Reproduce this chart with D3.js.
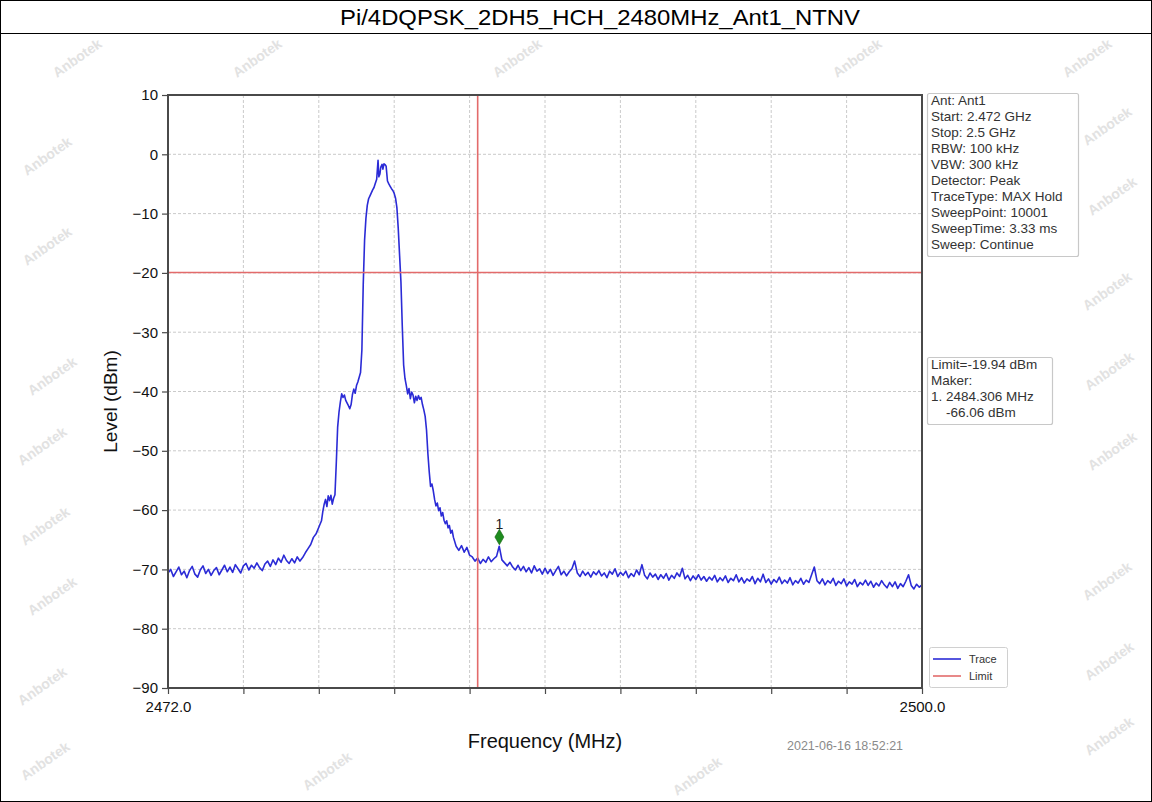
<!DOCTYPE html>
<html><head><meta charset="utf-8">
<script src="https://cdn.jsdelivr.net/npm/d3@7"></script>
<style>
body{margin:0;background:#fff}
svg{display:block}
text{font-family:"Liberation Sans",Arial,Helvetica,sans-serif}
</style>
</head><body>
<svg id="chart" width="1152" height="802"></svg>
<script>
// ---------------- data ----------------
const chartTitle = "Pi/4DQPSK_2DH5_HCH_2480MHz_Ant1_NTNV";
const xDomain = [2472, 2500];
const yDomain = [-90, 10];
const xTickValues = [2472, 2474.8, 2477.6, 2480.4, 2483.2, 2486, 2488.8, 2491.6, 2494.4, 2497.2, 2500];
const xTickLabels = ["2472.0", "", "", "", "", "", "", "", "", "", "2500.0"];
const yTickValues = [-90, -80, -70, -60, -50, -40, -30, -20, -10, 0, 10];
const limitDbm = -19.94;
const bandEdgeMHz = 2483.5;
const markerPoint = {label: "1", mhz: 2484.306, dbm: -66.06};
const xLabel = "Frequency (MHz)";
const yLabel = "Level (dBm)";
const timestamp = "2021-06-16 18:52:21";
const infoLines = ["Ant: Ant1", "Start: 2.472 GHz", "Stop: 2.5 GHz", "RBW: 100 kHz", "VBW: 300 kHz",
  "Detector: Peak", "TraceType: MAX Hold", "SweepPoint: 10001", "SweepTime: 3.33 ms", "Sweep: Continue"];
const markerLines = ["Limit=-19.94 dBm", "Maker:", "1. 2484.306 MHz", "    -66.06 dBm"];
const legendItems = [{name: "Trace", color: "#2b2bd6"}, {name: "Limit", color: "#e36b6b"}];

// trace: [frequency MHz, level dBm]
const tracePts = [
[2472.0,-70.6],[2472.1,-70.0],[2472.2,-71.2],[2472.3,-70.4],[2472.4,-69.6],[2472.5,-70.9],[2472.6,-70.3],[2472.7,-71.4],[2472.8,-70.2],[2472.9,-69.5],
[2473.0,-70.8],[2473.1,-71.3],[2473.2,-70.1],[2473.3,-69.4],[2473.4,-70.7],[2473.5,-70.0],[2473.6,-71.0],[2473.7,-70.2],[2473.8,-69.7],[2473.9,-70.9],
[2474.0,-70.1],[2474.1,-69.3],[2474.2,-70.4],[2474.3,-69.6],[2474.4,-70.5],[2474.5,-69.2],[2474.6,-69.9],[2474.7,-70.6],[2474.8,-69.4],[2474.9,-69.0],
[2475.0,-70.1],[2475.1,-69.3],[2475.2,-69.8],[2475.3,-68.9],[2475.4,-69.7],[2475.5,-70.2],[2475.6,-69.1],[2475.7,-68.6],[2475.8,-69.5],[2475.9,-68.4],
[2476.0,-69.2],[2476.1,-68.1],[2476.2,-68.8],[2476.3,-67.6],[2476.4,-68.5],[2476.5,-69.0],[2476.6,-68.2],[2476.7,-68.9],[2476.8,-67.9],[2476.9,-68.6],
[2477.0,-68.0],[2477.1,-67.2],[2477.2,-66.5],[2477.3,-65.8],[2477.4,-64.6],[2477.5,-64.0],[2477.6,-62.9],[2477.7,-61.8],[2477.75,-60.2],[2477.8,-59.0],
[2477.85,-58.2],[2477.9,-59.4],[2477.95,-57.6],[2478.0,-58.4],[2478.05,-57.5],[2478.1,-59.0],[2478.15,-58.0],[2478.2,-57.4],[2478.25,-52.0],[2478.3,-46.0],
[2478.35,-43.5],[2478.4,-41.8],[2478.45,-40.4],[2478.5,-41.0],[2478.55,-40.6],[2478.6,-41.5],[2478.7,-42.4],[2478.75,-42.9],[2478.8,-42.2],[2478.85,-40.5],
[2478.9,-39.6],[2478.95,-40.3],[2479.0,-39.0],[2479.05,-38.4],[2479.1,-37.6],[2479.15,-36.8],[2479.2,-33.0],[2479.25,-22.0],[2479.3,-14.5],[2479.35,-10.8],
[2479.4,-8.6],[2479.45,-7.5],[2479.5,-7.0],[2479.55,-6.5],[2479.6,-6.0],[2479.65,-5.6],[2479.7,-4.9],[2479.75,-4.2],[2479.8,-1.0],[2479.83,-3.8],
[2479.87,-3.3],[2479.9,-2.2],[2479.95,-1.7],[2479.98,-2.5],[2480.02,-1.6],[2480.07,-1.8],[2480.1,-2.0],[2480.15,-4.5],[2480.2,-5.0],[2480.25,-5.4],
[2480.3,-5.8],[2480.35,-6.1],[2480.4,-6.6],[2480.45,-7.4],[2480.5,-9.0],[2480.55,-12.5],[2480.6,-17.0],[2480.65,-21.5],[2480.7,-29.0],[2480.75,-35.5],
[2480.8,-37.8],[2480.85,-39.0],[2480.9,-40.4],[2480.95,-39.5],[2481.0,-41.2],[2481.05,-40.1],[2481.1,-40.6],[2481.15,-41.9],[2481.2,-40.8],[2481.25,-41.5],
[2481.3,-40.7],[2481.35,-41.3],[2481.4,-41.0],[2481.45,-42.2],[2481.5,-43.1],[2481.55,-44.2],[2481.6,-46.5],[2481.65,-50.4],[2481.7,-53.5],[2481.75,-56.0],
[2481.8,-55.6],[2481.85,-56.7],[2481.9,-58.2],[2481.95,-59.3],[2482.0,-58.8],[2482.05,-60.1],[2482.1,-59.6],[2482.15,-61.0],[2482.2,-60.4],[2482.25,-61.7],
[2482.3,-62.3],[2482.35,-61.8],[2482.4,-63.0],[2482.45,-62.6],[2482.5,-63.9],[2482.55,-63.4],[2482.6,-64.6],[2482.7,-66.1],[2482.8,-66.8],[2482.9,-66.0],
[2483.0,-67.1],[2483.1,-66.3],[2483.2,-67.6],[2483.3,-67.9],[2483.4,-68.6],[2483.5,-68.1],[2483.6,-69.0],[2483.7,-68.3],[2483.8,-68.8],[2483.9,-67.9],
[2484.0,-68.7],[2484.1,-68.2],[2484.2,-67.8],[2484.3,-66.1],[2484.4,-68.4],[2484.5,-68.9],[2484.6,-69.4],[2484.7,-68.8],[2484.8,-69.6],[2484.9,-70.1],
[2485.0,-69.3],[2485.1,-70.2],[2485.2,-69.5],[2485.3,-70.4],[2485.4,-69.7],[2485.5,-70.6],[2485.6,-69.4],[2485.7,-70.3],[2485.8,-69.9],[2485.9,-70.8],
[2486.0,-69.8],[2486.1,-70.7],[2486.2,-70.0],[2486.3,-71.0],[2486.4,-70.2],[2486.5,-69.5],[2486.6,-70.9],[2486.7,-70.3],[2486.8,-71.1],[2486.9,-70.4],
[2487.0,-69.9],[2487.1,-68.6],[2487.2,-70.6],[2487.3,-71.2],[2487.4,-70.3],[2487.5,-71.0],[2487.6,-70.5],[2487.7,-71.3],[2487.8,-70.4],[2487.9,-70.9],
[2488.0,-70.2],[2488.1,-71.1],[2488.2,-70.6],[2488.3,-71.4],[2488.4,-70.3],[2488.5,-70.8],[2488.6,-69.9],[2488.7,-71.2],[2488.8,-70.5],[2488.9,-71.0],
[2489.0,-70.3],[2489.1,-71.4],[2489.2,-70.7],[2489.3,-71.2],[2489.4,-70.1],[2489.5,-70.9],[2489.6,-69.2],[2489.7,-71.0],[2489.8,-71.6],[2489.9,-70.6],
[2490.0,-71.3],[2490.1,-70.8],[2490.2,-71.7],[2490.3,-70.9],[2490.4,-71.5],[2490.5,-70.7],[2490.6,-71.8],[2490.7,-71.0],[2490.8,-71.5],[2490.9,-70.6],
[2491.0,-71.2],[2491.1,-69.8],[2491.2,-71.6],[2491.3,-71.0],[2491.4,-71.9],[2491.5,-71.1],[2491.6,-71.7],[2491.7,-70.9],[2491.8,-71.8],[2491.9,-71.2],
[2492.0,-72.0],[2492.1,-71.3],[2492.2,-71.8],[2492.3,-71.0],[2492.4,-72.1],[2492.5,-71.4],[2492.6,-71.9],[2492.7,-71.1],[2492.8,-72.2],[2492.9,-71.5],
[2493.0,-71.9],[2493.1,-70.9],[2493.2,-72.1],[2493.3,-71.4],[2493.4,-72.3],[2493.5,-71.6],[2493.6,-72.0],[2493.7,-71.2],[2493.8,-72.4],[2493.9,-71.5],
[2494.0,-72.1],[2494.1,-70.8],[2494.2,-72.2],[2494.3,-71.6],[2494.4,-72.5],[2494.5,-71.7],[2494.6,-72.2],[2494.7,-71.3],[2494.8,-72.4],[2494.9,-71.8],
[2495.0,-72.3],[2495.1,-71.4],[2495.2,-72.6],[2495.3,-71.9],[2495.4,-72.3],[2495.5,-71.5],[2495.6,-72.5],[2495.7,-71.8],[2495.8,-72.2],[2495.9,-70.9],
[2496.0,-69.6],[2496.1,-71.9],[2496.2,-72.4],[2496.3,-71.6],[2496.4,-72.6],[2496.5,-71.9],[2496.6,-72.3],[2496.7,-71.5],[2496.8,-72.7],[2496.9,-72.0],
[2497.0,-72.4],[2497.1,-71.6],[2497.2,-72.8],[2497.3,-72.1],[2497.4,-72.5],[2497.5,-71.7],[2497.6,-72.9],[2497.7,-72.2],[2497.8,-72.6],[2497.9,-71.8],
[2498.0,-72.7],[2498.1,-72.0],[2498.2,-73.0],[2498.3,-72.3],[2498.4,-72.8],[2498.5,-71.9],[2498.6,-72.6],[2498.7,-73.1],[2498.8,-72.2],[2498.9,-72.9],
[2499.0,-72.1],[2499.1,-73.2],[2499.2,-72.4],[2499.3,-72.9],[2499.4,-72.0],[2499.5,-70.9],[2499.6,-72.7],[2499.7,-73.3],[2499.8,-72.5],[2499.9,-73.0],
[2500.0,-72.6]
];

// watermark positions (page pixels) and text
const watermarkText = "Anbotek";
const watermarkSpots = [[80,62],[260,62],[520,62],[860,62],[1090,62],[1110,130],[50,160],[50,250],[55,380],[1115,200],
  [1110,295],[1112,375],[1115,455],[45,450],[48,530],[55,600],[1110,585],[1112,665],[1112,740],[45,690],[48,765],[330,775],[700,780]];

// ---------------- layout ----------------
const W = 1152, H = 802;
const plot = {left: 168, right: 922, top: 95, bottom: 688};

const svg = d3.select("#chart");
svg.append("rect").attr("width", W).attr("height", H).attr("fill", "#fff");

// watermarks
svg.append("g").selectAll("text").data(watermarkSpots).join("text")
  .attr("transform", d => `translate(${d[0]},${d[1]}) rotate(-35)`)
  .attr("text-anchor", "middle")
  .attr("font-size", 14).attr("font-weight", "bold")
  .attr("fill", "#e2e2e2")
  .text(watermarkText);

// outer frame & title
svg.append("rect").attr("x", 0.5).attr("y", 0.5).attr("width", W - 1).attr("height", H - 1)
  .attr("fill", "none").attr("stroke", "#000").attr("stroke-width", 1);
svg.append("line").attr("x1", 0).attr("x2", W).attr("y1", 33.5).attr("y2", 33.5)
  .attr("stroke", "#000").attr("stroke-width", 1);
svg.append("text").attr("x", 600).attr("y", 25).attr("text-anchor", "middle")
  .attr("font-size", 22).attr("fill", "#000")
  .attr("textLength", 520).attr("lengthAdjust", "spacingAndGlyphs")
  .text(chartTitle);

const x = d3.scaleLinear().domain(xDomain).range([plot.left, plot.right]);
const y = d3.scaleLinear().domain(yDomain).range([plot.bottom, plot.top]);

// plot background
svg.append("rect").attr("x", plot.left).attr("y", plot.top)
  .attr("width", plot.right - plot.left).attr("height", plot.bottom - plot.top).attr("fill", "#fff");

// grid
const grid = svg.append("g").attr("stroke", "#c4c4c4").attr("stroke-width", 0.9).attr("stroke-dasharray", "3,2");
grid.selectAll(".gx").data(xTickValues.slice(1, -1)).join("line")
  .attr("x1", d => x(d)).attr("x2", d => x(d)).attr("y1", plot.top).attr("y2", plot.bottom);
grid.selectAll(".gy").data(yTickValues.slice(1, -1)).join("line")
  .attr("y1", d => y(d)).attr("y2", d => y(d)).attr("x1", plot.left).attr("x2", plot.right);

// clip
svg.append("clipPath").attr("id", "clip").append("rect")
  .attr("x", plot.left).attr("y", plot.top).attr("width", plot.right - plot.left).attr("height", plot.bottom - plot.top);

// trace
const line = d3.line().x(d => x(d[0])).y(d => y(d[1]));
svg.append("path").datum(tracePts).attr("clip-path", "url(#clip)")
  .attr("d", line).attr("fill", "none").attr("stroke", legendItems[0].color)
  .attr("stroke-width", 1.6).attr("stroke-linejoin", "round");

// limit lines
svg.append("line").attr("x1", plot.left).attr("x2", plot.right)
  .attr("y1", y(limitDbm)).attr("y2", y(limitDbm))
  .attr("stroke", legendItems[1].color).attr("stroke-width", 1.6);
svg.append("line").attr("x1", x(bandEdgeMHz)).attr("x2", x(bandEdgeMHz))
  .attr("y1", plot.top).attr("y2", plot.bottom)
  .attr("stroke", legendItems[1].color).attr("stroke-width", 1.6);

// marker
const mx = x(markerPoint.mhz), my = y(markerPoint.dbm) - 9;
svg.append("path").attr("d", d3.symbol(d3.symbolDiamond, 70)())
  .attr("transform", `translate(${mx},${my})`)
  .attr("fill", "#1e8c1e").attr("stroke", "#0f5f0f").attr("stroke-width", 0.6);
svg.append("text").attr("x", mx).attr("y", my - 8).attr("text-anchor", "middle")
  .attr("font-size", 14).attr("fill", "#222").text(markerPoint.label);

// axes
const axisColor = "#4a4a4a";
const xAxis = d3.axisBottom(x).tickValues(xTickValues).tickSize(6).tickPadding(4)
  .tickFormat((d, i) => xTickLabels[i]);
const gx = svg.append("g").attr("transform", `translate(0,${plot.bottom})`).call(xAxis);
const yAxis = d3.axisLeft(y).tickValues(yTickValues).tickSize(6).tickPadding(4).tickFormat(d3.format("d"));
const gy = svg.append("g").attr("transform", `translate(${plot.left},0)`).call(yAxis);
[gx, gy].forEach(g => {
  g.select(".domain").remove();
  g.selectAll(".tick line").attr("stroke", axisColor).attr("stroke-width", 1.2);
  g.selectAll(".tick text").attr("font-size", 15).attr("fill", "#111")
    .attr("font-family", "'Liberation Sans', Arial, sans-serif");
});
gy.selectAll(".tick text").text(d => d3.format("d")(d).replace("-", "\u2212"));
gx.selectAll(".tick text").attr("dy", "0.9em");

// plot frame
svg.append("rect").attr("x", plot.left).attr("y", plot.top)
  .attr("width", plot.right - plot.left).attr("height", plot.bottom - plot.top)
  .attr("fill", "none").attr("stroke", axisColor).attr("stroke-width", 2);

// axis labels
svg.append("text").attr("x", (plot.left + plot.right) / 2).attr("y", 748)
  .attr("text-anchor", "middle").attr("font-size", 20).attr("fill", "#111").text(xLabel);
svg.append("text").attr("transform", `translate(117,${(plot.top + plot.bottom) / 2 + 10}) rotate(-90)`)
  .attr("text-anchor", "middle").attr("font-size", 19).attr("fill", "#111").text(yLabel);

// timestamp
svg.append("text").attr("x", 787).attr("y", 750).attr("font-size", 12.5).attr("fill", "#8a8a8a").text(timestamp);

// info boxes
function infoBox(lines, bx, by, bw, bh) {
  svg.append("rect").attr("x", bx + 0.5).attr("y", by + 0.5).attr("width", bw).attr("height", bh)
    .attr("fill", "#fff").attr("stroke", "#c8c8c8").attr("stroke-width", 1.2).attr("rx", 2);
  svg.append("g").selectAll("text").data(lines).join("text")
    .attr("x", bx + 4).attr("y", (d, i) => by + 12 + i * 16)
    .attr("font-size", 13.5).attr("fill", "#333").attr("xml:space", "preserve")
    .style("white-space", "pre").text(d => d);
}
infoBox(infoLines, 927, 93, 151, 163);
infoBox(markerLines, 927, 357, 125, 67);

// legend
const lg = svg.append("g");
lg.append("rect").attr("x", 929.5).attr("y", 647.5).attr("width", 78).attr("height", 40)
  .attr("fill", "#fff").attr("stroke", "#d0d0d0").attr("rx", 2);
lg.selectAll(".li").data(legendItems).join("line")
  .attr("x1", 933).attr("x2", 961).attr("y1", (d, i) => 659 + i * 17).attr("y2", (d, i) => 659 + i * 17)
  .attr("stroke", d => d.color).attr("stroke-width", 1.6);
lg.selectAll(".lt").data(legendItems).join("text")
  .attr("x", 969).attr("y", (d, i) => 663 + i * 17)
  .attr("font-size", 11).attr("fill", "#333").text(d => d.name);
</script>
</body></html>
